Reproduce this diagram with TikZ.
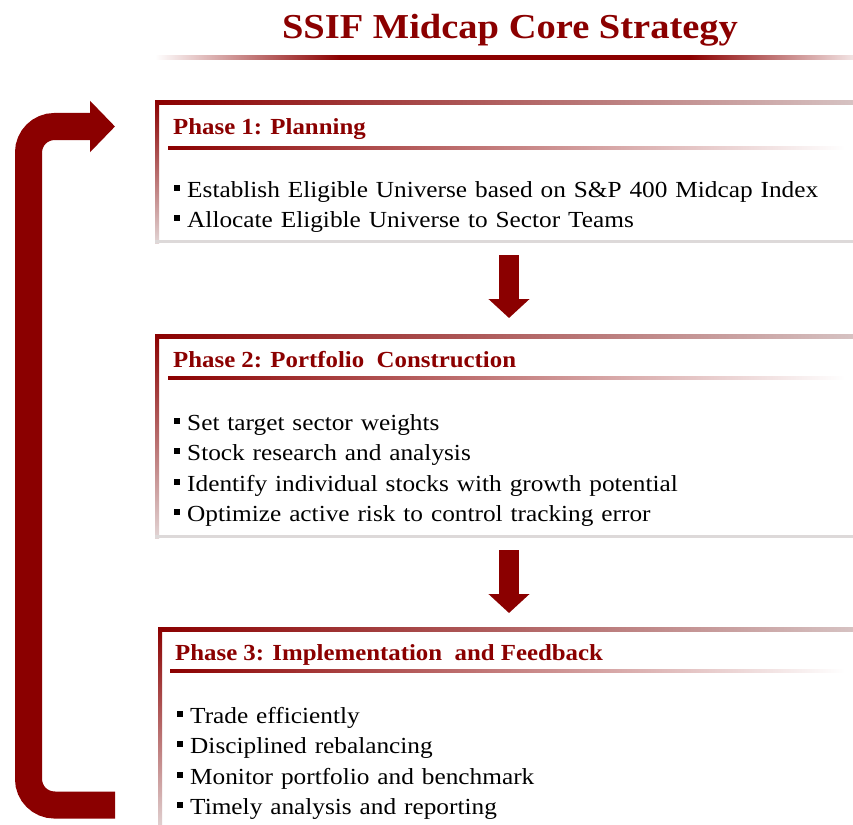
\documentclass[tikz,border=0pt]{standalone}
\usepackage{fontspec}
\setmainfont{Liberation Serif}[FakeStretch=1.1]
\newfontfamily\headfont{Liberation Serif}[FakeStretch=1.08]
\newfontfamily\bodyfont{Liberation Serif}[FakeStretch=1.1, WordSpace=1.25]
\usetikzlibrary{arrows.meta}
\definecolor{myred}{HTML}{8B0000}
\definecolor{fadered}{HTML}{D6C2C2}
\definecolor{fadeleft}{HTML}{E2D4D4}
\definecolor{botgray}{HTML}{DDD9D9}
\definecolor{titlefade}{HTML}{F2E4E4}
\newcommand\phasebox[3]{% left, top, bottom
  \shade[left color=myred, right color=fadered] (#1,#2) rectangle (853,#2+4);
  \shade[top color=myred, bottom color=fadeleft] (#1,#2) rectangle (#1+4,#3);
  \fill[botgray] (#1,#3-3) rectangle (853,#3);
}
\newcommand\headline[2]{% left, y
  \shade[left color=myred, right color=white] (#1,#2-1.6) rectangle (845,#2+1.6);
}
\newcommand\sqbullet{\rule[6pt]{6pt}{6pt}\hspace{7pt}}
\begin{document}
\begin{tikzpicture}[x=1pt,y=-1pt,
  heading/.style={anchor=base west, inner sep=0pt, font=\headfont\fontsize{23}{23}\selectfont\bfseries, text=myred},
  item/.style={anchor=base west, inner sep=0pt, font=\bodyfont\fontsize{23}{23}\selectfont},
  flowarrow/.style={myred, line width=20pt, -{Triangle[width=40pt,length=19pt]}},
  looparrow/.style={myred, line width=27pt, rounded corners=26pt, -{Triangle[width=50pt,length=25pt]}},
]
\useasboundingbox (0,0) rectangle (853,824);
\fill[white] (0,0) rectangle (853,824);

% title
\node[anchor=base, inner sep=0pt, font=\fontsize{35}{35}\selectfont\bfseries, text=myred] (title) at (510,39) {SSIF Midcap Core Strategy};
\shade[left color=white, right color=myred] (155,55.5) rectangle (340,60);
\fill[myred] (339.5,55.5) rectangle (690.5,60);
\shade[left color=myred, right color=titlefade] (690,55.5) rectangle (853,60);

% boxes
\phasebox{155}{101}{243}
\phasebox{155}{334}{538}
\phasebox{158}{627}{830}
\headline{168}{148}
\headline{168}{378}
\headline{170}{671}

% phase 1
\node[heading] (h1) at (173,135) {Phase 1: Planning};
\node[item] (p1a) at (174,197) {\sqbullet Establish Eligible Universe based on S\&P 400 Midcap Index};
\node[item] (p1b) at (174,227) {\sqbullet Allocate Eligible Universe to Sector Teams};

% phase 2
\node[heading] (h2) at (173,367) {Phase 2: Portfolio\ \ Construction};
\node[item] (p2a) at (174,430) {\sqbullet Set target sector weights};
\node[item] (p2b) at (174,460) {\sqbullet Stock research and analysis};
\node[item] (p2c) at (174,491) {\sqbullet Identify individual stocks with growth potential};
\node[item] (p2d) at (174,521) {\sqbullet Optimize active risk to control tracking error};

% phase 3
\node[heading] (h3) at (175,660) {Phase 3: Implementation\ \ and Feedback};
\node[item] (p3a) at (177,723) {\sqbullet Trade efficiently};
\node[item] (p3b) at (177,753) {\sqbullet Disciplined rebalancing};
\node[item] (p3c) at (177,784) {\sqbullet Monitor portfolio and benchmark};
\node[item] (p3d) at (177,814) {\sqbullet Timely analysis and reporting};

% flow arrows
\coordinate (a1s) at (509,255);
\coordinate (a1e) at (509,318);
\coordinate (a2s) at (509,550);
\coordinate (a2e) at (509,613);
\draw[flowarrow] (a1s) -- (a1e);
\draw[flowarrow] (a2s) -- (a2e);

% feedback loop
\coordinate (ls) at (115,805);
\coordinate (lc1) at (28.5,805);
\coordinate (lc2) at (28.5,126.5);
\coordinate (le) at (115,126.5);
\draw[looparrow] (ls) -- (lc1) -- (lc2) -- (le);
\end{tikzpicture}
\end{document}
